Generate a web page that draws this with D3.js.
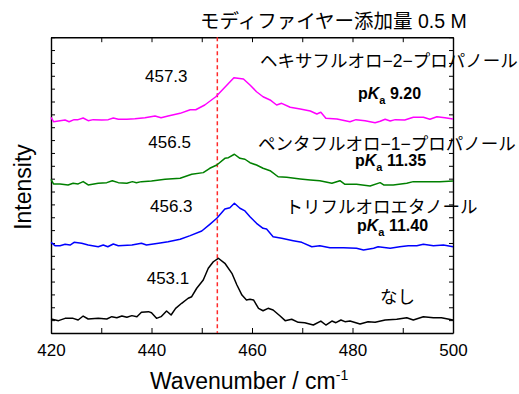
<!DOCTYPE html>
<html>
<head>
<meta charset="utf-8">
<script src="https://cdn.jsdelivr.net/npm/d3@7"></script>
<style>
  body { margin: 0; background: #fff; }
  text { font-family: "Liberation Sans", Arial, "Noto Sans CJK JP", sans-serif; fill: #000; }
</style>
</head>
<body>
<script>
// spectra, [wavenumber, intensity (stacked, arb. units)]
const hfip = [[420,16.77],[420.5,16.43],[421.8,16.51],[422.8,16.56],[423.6,16.43],[424.6,16.59],[425.4,16.59],[426.4,16.72],[427.4,16.51],[428.4,16.59],[430.1,16.56],[431.4,16.59],[432.4,16.72],[433.4,16.62],[435.1,16.62],[436.7,16.66],[438.7,16.74],[440.7,16.87],[441.9,16.74],[443.3,16.87],[445.7,17.08],[447.7,17.36],[448.8,17.36],[450.6,17.73],[452.8,18.37],[454.6,19.11],[456.4,19.85],[458.3,19.75],[459.6,19.28],[460.9,18.76],[462.2,18.37],[463.6,18.12],[464.9,17.73],[465.9,17.86],[467.6,17.55],[469.6,17.42],[471.6,17.26],[472.9,17.03],[473.7,17.16],[474.7,16.70],[476.9,16.64],[479.5,16.43],[480.7,16.59],[482.5,16.51],[484.5,16.35],[485.5,16.46],[486.5,16.62],[487.5,16.49],[488.5,16.59],[490.4,16.56],[492.1,16.77],[494.1,16.77],[495.4,16.62],[496.8,16.82],[498.4,16.74],[500,16.64]];
const pfp = [[420,11.95],[420.5,11.59],[421.8,11.59],[423.4,11.51],[424.4,11.64],[425.4,11.59],[426.4,11.77],[427.4,11.51],[429.4,11.64],[431.1,11.69],[432.2,11.84],[433.4,11.69],[435.1,11.64],[436.2,11.77],[437,11.69],[438,11.77],[440,11.82],[442.7,11.95],[445.7,12.03],[448,12.34],[450.3,12.47],[451.6,12.81],[453,13.06],[454.6,13.58],[455.3,13.63],[456.5,13.90],[457.6,13.58],[458.6,13.51],[459.6,13.24],[460.9,13.06],[462.2,12.81],[463.6,12.62],[465.2,12.15],[466.9,12.11],[469.6,11.98],[471.6,11.90],[473.5,11.84],[475.9,11.64],[477.5,11.84],[478.5,11.56],[480.8,11.56],[483.5,11.43],[485.5,11.69],[486.2,11.51],[488.1,11.51],[490.8,11.64],[492.1,11.77],[494.8,11.77],[497.4,11.77],[500,11.82]];
const tfe = [[420,7.05],[420.8,6.79],[421.8,6.79],[422.8,6.90],[423.8,6.84],[424.6,7.05],[426.1,6.98],[427.4,6.84],[429.4,6.71],[430.4,6.84],[431.3,6.71],[432.4,6.92],[433.4,6.79],[436.1,6.84],[438,6.98],[439,6.84],[441.4,6.98],[443.3,7.10],[445.7,7.29],[447.7,7.57],[450,7.93],[451.6,8.45],[453,8.92],[454.6,9.64],[455.6,9.74],[456.5,10.09],[457.6,9.70],[458.6,9.49],[459.6,9.04],[460.9,8.53],[462.2,8.14],[462.9,8.09],[464.2,7.49],[465.9,7.36],[468.2,7.18],[469.9,7.05],[471.9,6.71],[473.5,6.79],[475.5,6.63],[478.2,6.63],[480.8,6.59],[482.2,6.45],[484.2,6.59],[485.1,6.71],[487.5,6.59],[489.4,6.71],[491.1,6.79],[492.8,6.79],[494.1,6.90],[496.1,6.79],[498.1,6.84],[500,6.71]];
const none = [[420,1.09],[421.5,0.96],[422.8,1.14],[424.4,1.14],[425.4,1.01],[426.4,1.32],[427.4,1.09],[429.4,1.14],[431.1,1.09],[432.1,1.27],[433.1,1.19],[434.1,1.32],[435.1,1.22],[436.1,1.35],[437.1,1.27],[438,1.61],[439.4,1.66],[440,1.58],[441,1.14],[441.9,1.27],[443,1.71],[443.9,1.40],[444.8,1.92],[446,2.31],[447.3,2.70],[448,2.82],[449,3.48],[450.3,4.12],[451.3,5.03],[452.3,5.54],[453.3,5.81],[454.6,5.42],[456,4.64],[457,3.73],[458,2.95],[458.9,2.57],[459.6,2.62],[460.3,2.57],[461.3,1.92],[462.2,1.73],[463.2,1.92],[464.2,1.79],[465.6,1.32],[466.6,0.96],[467.9,1.07],[469.2,0.83],[470.5,0.80],[472.2,0.62],[473.7,0.93],[474.7,0.62],[475.9,0.93],[476.7,0.80],[477.7,1.01],[478.5,0.88],[479.5,0.93],[481.5,0.70],[483.1,0.88],[484.5,0.83],[486.5,1.01],[488.8,1.07],[490.8,1.19],[492.1,1.01],[494.1,1.27],[496.1,1.19],[497.7,1.19],[500,1.01]];

const names = ["ヘキサフルオロ−2−プロパノール", "ペンタフルオロ−1−プロパノール", "トリフルオロエタノール", "なし"];
const pKas = ["9.20", "11.35", "11.40", null];
const peaks = ["457.3", "456.5", "456.3", "453.1"];
const colors = ["#ff00ff", "#008000", "#0000ff", "#000000"];
const refLine = 453.1;
const xTicks = [420, 430, 440, 450, 460, 470, 480, 490, 500];

const w = 519, h = 394;
const padL = 51, padR = 453, padT = 37.2, padB = 333;

const xScale = d3.scaleLinear().domain([420, 500]).range([padL, padR]);
const yScale = d3.scaleLinear().domain([0, 23]).range([padB, padT]);

const svg = d3.select("body").append("svg")
    .attr("width", w)
    .attr("height", h);

// frame + inward ticks
const yTicks = d3.range(0, 24, 1);
svg.append("g").attr("transform", "translate(0," + padB + ")")
    .call(d3.axisBottom(xScale).tickValues(xTicks).tickSize(-5).tickSizeOuter(0).tickPadding(11)
      .tickFormat(d => d % 20 === 0 ? d : ""));
svg.append("g").attr("transform", "translate(0," + padT + ")")
    .call(d3.axisTop(xScale).tickValues(xTicks).tickSize(-5).tickSizeOuter(0).tickFormat(""));
svg.append("g").attr("transform", "translate(" + padL + ",0)")
    .call(d3.axisLeft(yScale).tickValues(yTicks).tickSize(-4).tickSizeOuter(0).tickFormat(""));
svg.append("g").attr("transform", "translate(" + padR + ",0)")
    .call(d3.axisRight(yScale).tickValues(yTicks).tickSize(-4).tickSizeOuter(0).tickFormat(""));

svg.selectAll(".domain").attr("stroke", "#000").attr("stroke-width", 1.4);
svg.selectAll(".tick line").attr("stroke", "#000").attr("stroke-width", 1);
svg.selectAll(".tick text")
    .style("font-family", '"Liberation Sans", Arial, sans-serif')
    .style("font-size", "17px");

// reference line
svg.append("path")
    .attr("d", "M" + xScale(refLine) + "," + yScale(23) + "V" + yScale(0))
    .attr("fill", "none")
    .style("stroke", "#ff2a2a")
    .style("stroke-width", "1.5px")
    .style("stroke-dasharray", "4,3");

const line = d3.line().x(d => xScale(d[0])).y(d => yScale(d[1]));
[hfip, pfp, tfe, none].forEach((s, i) => {
  svg.append("path")
      .datum(s)
      .attr("d", line)
      .attr("fill", "none")
      .attr("stroke", colors[i])
      .attr("stroke-width", 1.5)
      .attr("stroke-linejoin", "round");
});

// title
svg.append("text")
    .attr("x", 200).attr("y", 28)
    .style("font-size", "19.5px")
    .text("モディファイヤー添加量 0.5 M");

// peak positions
const peakPos = [[145, 81.7], [148.3, 148.3], [150, 211.7], [146.7, 284]];
peaks.forEach((p, i) => {
  svg.append("text")
      .attr("x", peakPos[i][0]).attr("y", peakPos[i][1])
      .style("font-size", "17px")
      .text(p);
});

// modifier names
const namePos = [[260, 67], [258, 149.5], [285.5, 213], [380, 303]];
names.forEach((n, i) => {
  svg.append("text")
      .attr("x", namePos[i][0]).attr("y", namePos[i][1])
      .style("font-size", "17.5px")
      .text(n);
});

// pKa
const pkPos = [[358, 98.5], [355, 166], [357, 230.5]];
pKas.forEach((k, i) => {
  if (k === null) return;
  const t = svg.append("text")
      .attr("x", pkPos[i][0]).attr("y", pkPos[i][1])
      .style("font-size", "16px")
      .style("font-weight", "bold");
  t.append("tspan").text("p");
  t.append("tspan").style("font-style", "italic").text("K");
  t.append("tspan").attr("dy", 5).style("font-size", "11px").text("a");
  t.append("tspan").attr("dy", -5).text(" " + k);
});

// axis titles
const xl = svg.append("text")
    .attr("x", 150).attr("y", 389)
    .style("font-size", "23px");
xl.append("tspan").text("Wavenumber / cm");
xl.append("tspan").attr("dy", -9).style("font-size", "14px").text("-1");

svg.append("text")
    .attr("transform", "translate(31,187) rotate(-90)")
    .attr("text-anchor", "middle")
    .style("font-size", "23px")
    .text("Intensity");
</script>
</body>
</html>
